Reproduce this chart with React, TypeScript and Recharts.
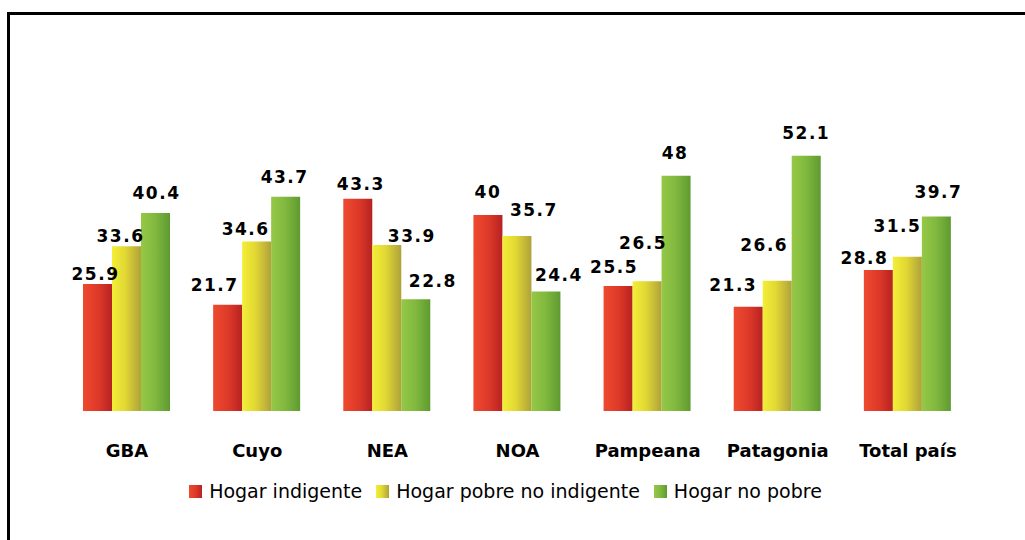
import React from "react";
import { BarChart, Bar, XAxis, YAxis, LabelList, Legend } from "recharts";

const categories = ["GBA", "Cuyo", "NEA", "NOA", "Pampeana", "Patagonia", "Total país"];
const hogarIndigente = [25.9, 21.7, 43.3, 40, 25.5, 21.3, 28.8];
const hogarPobreNoIndigente = [33.6, 34.6, 33.9, 35.7, 26.5, 26.6, 31.5];
const hogarNoPobre = [40.4, 43.7, 22.8, 24.4, 48, 52.1, 39.7];

// hand placed label nudges (px) as in the original sheet: [dx, lift above bar top]
const labelNudge: Record<string, [number, number][]> = {
  indigente: [[-2, 10], [-13, 20], [3, 15], [0, 23], [-4, 19], [-15, 22], [-14, 12]],
  pobre: [[-6, 10], [-11, 12], [25, 9], [17, 26], [-4, 38], [-13, 36], [-10, 31]],
  noPobre: [[1, 20], [-1, 20], [17, 18], [13, 16], [-1, 23], [0, 23], [2, 24]],
};

const series = [
  { key: "indigente", name: "Hogar indigente", grad: "gradRed" },
  { key: "pobre", name: "Hogar pobre no indigente", grad: "gradYellow" },
  { key: "noPobre", name: "Hogar no pobre", grad: "gradGreen" },
];

const data = categories.map((name, i) => ({
  name,
  indigente: hogarIndigente[i],
  pobre: hogarPobreNoIndigente[i],
  noPobre: hogarNoPobre[i],
}));

const font = "'DejaVu Sans', sans-serif";

function LegendContent() {
  return (
    <div
      style={{
        display: "flex",
        justifyContent: "center",
        alignItems: "center",
        height: 30,
        fontFamily: font,
        fontSize: 19,
        color: "#000",
      }}
    >
      {series.map((s) => (
        <div key={s.key} style={{ display: "flex", alignItems: "center", marginRight: 14 }}>
          <svg width={13} height={13} style={{ marginRight: 7 }}>
            <rect width={13} height={13} fill={`url(#${s.grad})`} />
          </svg>
          <span>{s.name}</span>
        </div>
      ))}
    </div>
  );
}

const makeLabel = (key: string) => (props: any) => {
  const { x, y, width, value, index } = props;
  const [dx, lift] = labelNudge[key][index] || [0, 14];
  return (
    <text
      x={Number(x) + Number(width) / 2 + dx}
      y={Number(y) - lift + 6}
      textAnchor="middle"
      fill="#000"
      fontSize={17}
      fontWeight="bold"
      fontFamily={font}
      letterSpacing={1.5}
    >
      {value}
    </text>
  );
};

export default function App() {
  return (
    <div style={{ position: "absolute", left: 0, top: 0, width: 1025, height: 540, background: "#fff", overflow: "hidden" }}>
      <div
        style={{
          position: "absolute",
          left: 7,
          top: 12,
          width: 1100,
          height: 600,
          borderTop: "3px solid #000",
          borderLeft: "3px solid #000",
        }}
      />
      <div style={{ position: "absolute", left: 0, top: 0 }}>
        <BarChart
          width={1025}
          height={540}
          data={data}
          margin={{ top: 117, right: 52, left: 62, bottom: 34 }}
          barCategoryGap={21}
          barGap={0}
        >
          <defs>
            <linearGradient id="gradRed" x1="0" y1="0" x2="1" y2="0">
              <stop offset="0%" stopColor="#ee4a30" />
              <stop offset="55%" stopColor="#dc3828" />
              <stop offset="100%" stopColor="#b62222" />
            </linearGradient>
            <linearGradient id="gradYellow" x1="0" y1="0" x2="1" y2="0">
              <stop offset="0%" stopColor="#f4ee36" />
              <stop offset="45%" stopColor="#e2d834" />
              <stop offset="100%" stopColor="#aea23a" />
            </linearGradient>
            <linearGradient id="gradGreen" x1="0" y1="0" x2="1" y2="0">
              <stop offset="0%" stopColor="#96c846" />
              <stop offset="50%" stopColor="#80b83e" />
              <stop offset="100%" stopColor="#5e9a30" />
            </linearGradient>
          </defs>
          <XAxis
            dataKey="name"
            interval={0}
            tickLine={false}
            axisLine={false}
            height={65}
            tickMargin={27}
            tick={{ fill: "#000", fontSize: 18, fontWeight: "bold", fontFamily: font }}
          />
          <YAxis hide domain={[0, 60]} />
          <Legend
            verticalAlign="bottom"
            height={30}
            content={<LegendContent />}
            wrapperStyle={{ left: 0, width: 1025 }}
          />
          {series.map((s) => (
            <Bar key={s.key} dataKey={s.key} name={s.name} fill={`url(#${s.grad})`} isAnimationActive={false}>
              <LabelList dataKey={s.key} content={makeLabel(s.key)} />
            </Bar>
          ))}
        </BarChart>
      </div>
    </div>
  );
}
